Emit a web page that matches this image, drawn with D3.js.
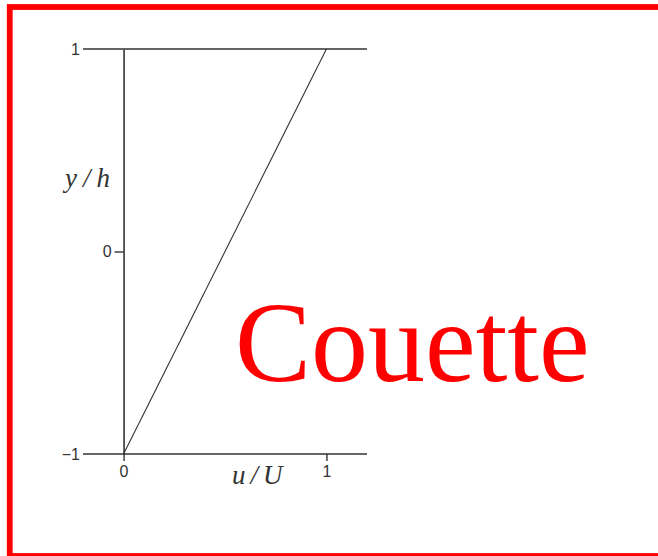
<!DOCTYPE html>
<html>
<head>
<meta charset="utf-8">
<script src="https://cdn.jsdelivr.net/npm/d3@7"></script>
<style>
  html, body { margin: 0; padding: 0; background: #fff; }
  svg { display: block; }
</style>
</head>
<body>
<svg id="chart" width="658" height="556"></svg>
<script>
// Couette flow: linear velocity profile between a fixed wall (y/h = -1)
// and a moving wall (y/h = 1).
const yPos = [-1, 1];          // wall-normal position y/h
const uVel = [0, 1];           // velocity u/U at those positions
const xTicks = [0, 1];
const yTicks = [-1, 0, 1];
const xLabel = "u/U";
const yLabel = "y/h";
const title = "Couette";

const svg = d3.select("#chart");
const axisColor = "#333";
const tickFont = "'Liberation Sans', Arial, sans-serif";
const serifFont = "'Liberation Serif', 'Times New Roman', serif";
const tickSize = "16px";
const fmt = d3.format("d");

// frame
svg.append("rect")
  .attr("x", 9.75).attr("y", 7)
  .attr("width", 660).attr("height", 549)
  .attr("fill", "none")
  .attr("stroke", "#ff0000")
  .attr("stroke-width", 5.8);

const x = d3.scaleLinear().domain([-0.2, 1.2]).range([83, 367]);
const y = d3.scaleLinear().domain([-1, 1]).range([454, 49]);

// walls (horizontal lines at y/h = ±1, spanning the full x domain)
svg.selectAll("line.wall")
  .data([yTicks[0], yTicks[2]])
  .join("line")
  .attr("class", "wall")
  .attr("x1", x.range()[0]).attr("x2", x.range()[1])
  .attr("y1", d => y(d)).attr("y2", d => y(d))
  .attr("stroke", axisColor).attr("stroke-width", 1.6);

// wall labels at the left end
svg.selectAll("text.wallLabel")
  .data([yTicks[0], yTicks[2]])
  .join("text")
  .attr("class", "wallLabel")
  .attr("x", x.range()[0] - 3)
  .attr("y", d => y(d))
  .attr("dy", "0.36em")
  .attr("text-anchor", "end")
  .style("font-family", tickFont)
  .style("font-size", tickSize)
  .attr("fill", axisColor)
  .text(d => d < 0 ? "\u2212" + fmt(-d) : fmt(d));

// y axis at u/U = 0 with the centre tick
const yAxis = d3.axisLeft(y).tickValues([yTicks[1]]).tickFormat(fmt)
  .tickSize(9).tickPadding(3).tickSizeOuter(0);
const gy = svg.append("g").attr("transform", `translate(${x(0)},0)`).call(yAxis);
gy.select(".domain").attr("stroke", axisColor).attr("stroke-width", 1.6);
gy.selectAll(".tick line").attr("stroke", axisColor).attr("stroke-width", 1.4);
gy.selectAll(".tick text")
  .style("font-family", tickFont)
  .style("font-size", tickSize).attr("fill", axisColor);

// x axis ticks below the lower wall
const xAxis = d3.axisBottom(x).tickValues(xTicks).tickFormat(fmt)
  .tickSize(7).tickPadding(5).tickSizeOuter(0);
const gx = svg.append("g").attr("transform", `translate(0,${y(-1)})`).call(xAxis);
gx.select(".domain").remove();
gx.selectAll(".tick line").attr("stroke", axisColor).attr("stroke-width", 1.4);
gx.selectAll(".tick text")
  .style("font-family", tickFont)
  .style("font-size", tickSize).attr("fill", axisColor);

// velocity profile
const line = d3.line().x(d => x(d[0])).y(d => y(d[1]));
svg.append("path")
  .datum(uVel.map((u, i) => [u, yPos[i]]))
  .attr("d", line)
  .attr("fill", "none")
  .attr("stroke", axisColor)
  .attr("stroke-width", 1.1);

// axis titles (math italic)
svg.append("text")
  .attr("x", 232).attr("y", 484)
  .style("font-family", serifFont)
  .style("font-style", "italic")
  .style("font-size", "27px")
  .attr("letter-spacing", 5)
  .attr("fill", axisColor)
  .text(xLabel);

svg.append("text")
  .attr("x", 65).attr("y", 187)
  .style("font-family", serifFont)
  .style("font-style", "italic")
  .style("font-size", "27px")
  .attr("letter-spacing", 6)
  .attr("fill", axisColor)
  .text(yLabel);

// flow name
svg.append("text")
  .attr("x", 235).attr("y", 381)
  .style("font-family", serifFont)
  .style("font-size", "114px")
  .attr("fill", "#ff0000")
  .text(title);
</script>
</body>
</html>
